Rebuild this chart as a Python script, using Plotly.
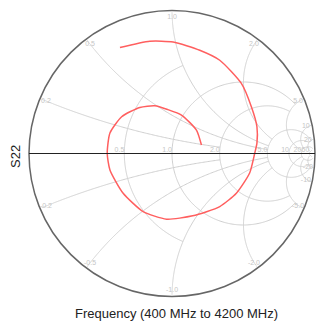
import numpy as np
import plotly.graph_objects as go

# S22 reflection coefficient (real / imaginary parts), 400 MHz -> 4200 MHz
s22_re = [-0.364, -0.155, 0.008, 0.194, 0.334, 0.485, 0.555, 0.594, 0.594, 0.578,
          0.543, 0.450, 0.334, 0.145, -0.038, -0.202, -0.343, -0.434, -0.453,
          -0.434, -0.352, -0.225, -0.120, -0.029, 0.066, 0.171, 0.206]
s22_im = [0.741, 0.785, 0.780, 0.722, 0.652, 0.490, 0.327, 0.187, 0.073, 0.000,
          -0.136, -0.278, -0.371, -0.436, -0.459, -0.406, -0.276, -0.115, 0.001,
          0.143, 0.257, 0.322, 0.334, 0.307, 0.269, 0.164, 0.059]

# grid: constant-resistance circles and the reactance where each one stops
r_vals = [0.5, 1, 2, 5, 10, 20, 50]
r_stop = [1, 5, 5, 20, 20, 50, 50]
r_text = ["0.5", "1.0", "2.0", "5.0", "10", "20", "50"]
# constant-reactance arcs and the resistance where each one stops
x_vals = [0.2, 0.5, 1, 2, 5, 10, 20]
x_stop = [2, 5, 5, 5, 20, 20, 50]
x_text = ["0.2", "0.5", "1.0", "2.0", "5.0", "10", "20"]

GRID = "#cfcfcf"
LABEL = "#c6c6c6"

fig = go.Figure()

# resistance circles
for r, lim in zip(r_vals, r_stop):
    t = np.linspace(-np.arctan(lim / (r + 1)), np.arctan(lim / (r + 1)), 300)
    xi = (r + 1) * np.tan(t)
    fig.add_trace(go.Scattersmith(real=np.full_like(xi, r), imag=xi, mode="lines",
                                  line=dict(color=GRID, width=1), showlegend=False,
                                  hoverinfo="skip"))
# reactance arcs (upper and lower)
for x, lim in zip(x_vals, x_stop):
    rr = np.concatenate([[0.0], np.geomspace(1e-3, lim, 400)])
    for sgn in (1, -1):
        fig.add_trace(go.Scattersmith(real=rr, imag=np.full_like(rr, sgn * x), mode="lines",
                                      line=dict(color=GRID, width=1), showlegend=False,
                                      hoverinfo="skip"))

# labels for reactance arcs, just inside the outer circle
lab_re, lab_im, lab_tx = [], [], []
for x, tx in zip(x_vals, x_text):
    for sgn in (1, -1):
        zb = 1j * sgn * x
        g = 0.955 * (zb - 1) / (zb + 1)
        z = (1 + g) / (1 - g)
        lab_re.append(z.real)
        lab_im.append(z.imag)
        lab_tx.append(tx if sgn > 0 else "-" + tx)
fig.add_trace(go.Scattersmith(real=lab_re, imag=lab_im, mode="text", text=lab_tx,
                              textfont=dict(size=7, color=LABEL), showlegend=False,
                              hoverinfo="skip"))
# labels for resistance circles, just above the real axis
fig.add_trace(go.Scattersmith(real=r_vals, imag=[0] * len(r_vals), mode="text",
                              text=r_text, textposition="top left",
                              textfont=dict(size=7, color=LABEL), showlegend=False,
                              hoverinfo="skip"))

gamma = np.array(s22_re) + 1j * np.array(s22_im)
z = (1 + gamma) / (1 - gamma)
fig.add_trace(go.Scattersmith(
    real=z.real, imag=z.imag, mode="lines",
    line=dict(color="rgb(255,95,95)", width=1.5, shape="spline", smoothing=0.6),
    showlegend=False, hoverinfo="skip"))

fig.update_layout(
    width=332, height=333,
    margin=dict(l=29, r=17, t=10, b=36),
    paper_bgcolor="white",
    font=dict(family="Liberation Sans, Arial, sans-serif", size=13, color="#222"),
    smith=dict(
        bgcolor="white",
        realaxis=dict(tickvals=r_vals, showgrid=False, showticklabels=False,
                      linecolor="#222", linewidth=1),
        imaginaryaxis=dict(tickvals=x_vals, showgrid=False, showticklabels=False,
                           linecolor="#666666", linewidth=1.5),
    ),
    annotations=[
        dict(text="S22", x=(15 - 29) / 286, y=(333 - 36 - 157) / 287,
             xref="paper", yref="paper", showarrow=False, textangle=-90,
             xanchor="center", yanchor="middle", font=dict(size=13, color="#222")),
        dict(text="Frequency (400 MHz to 4200 MHz)", x=(176.5 - 29) / 286,
             y=(333 - 36 - 313) / 287, xref="paper", yref="paper", showarrow=False,
             xanchor="center", yanchor="middle", font=dict(size=13, color="#222")),
    ],
)
fig.write_html("out.html")
